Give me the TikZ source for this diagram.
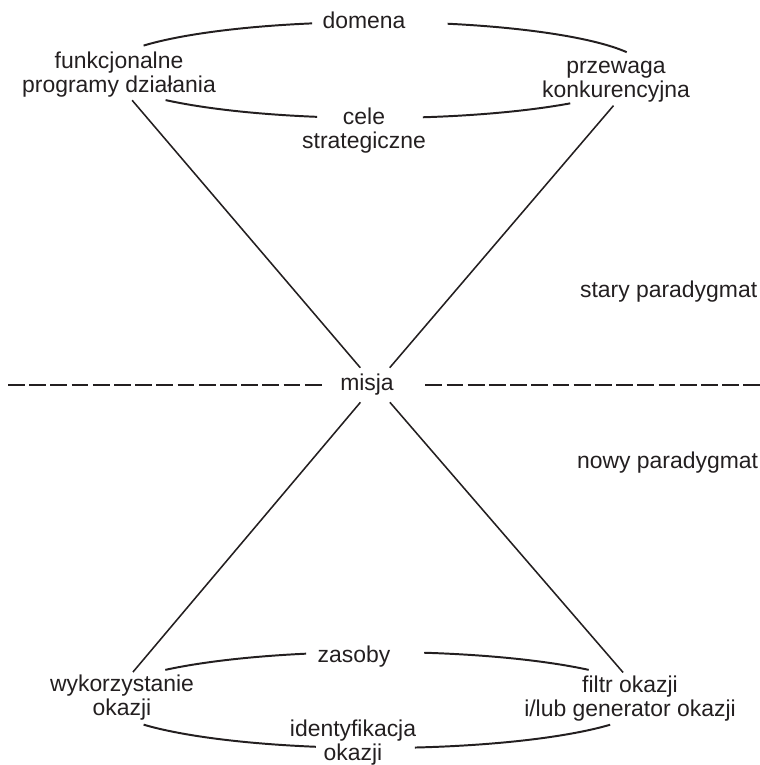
\documentclass[tikz,border=0pt]{standalone}
\usepackage{fontspec}
\setmainfont{Liberation Sans}
\definecolor{ink}{RGB}{35,31,32}
\tikzset{
    rim/.style={line width=1.4pt, draw=ink},
    spoke/.style={line width=1.1pt, draw=ink},
    tekst/.style={font=\fontsize{16.3pt}{17pt}\selectfont, text=ink, align=center, inner sep=2pt},
}
\begin{document}
\begin{tikzpicture}[x=0.025cm, y=-0.025cm]
            \useasboundingbox (0,0) rectangle (760,765);
            \begin{scope}
                \foreach \a/\b in {210.6/256.3, 285.4/338.2, 44/80, 102.6/141.2}
                    \draw[rim] (376,70) ++(\a:270 and 48) arc[start angle=\a, end angle=\b, x radius=270, y radius=48];
                \node[tekst, anchor=base] (domena) at (364,28) {domena};
                \node[tekst] (funkcje) at (119,74.5) {funkcjonalne\\programy działania};
                \node[tekst] (przewaga) at (616,82) {przewaga\\konkurencyjna};
                \node[tekst] (cele) at (364,130.7) {cele\\strategiczne};
                \node[tekst, anchor=base west] (stary) at (577,297) {stary paradygmat};
            \end{scope}
            \node[tekst, minimum width=2.5cm, minimum height=0.85cm, inner sep=0pt] (misja) at (375,385) {misja\hspace{0.4cm}};
            \coordinate (lewy) at (8,385);
            \coordinate (prawy) at (760,385);
            \draw[rim, dash pattern=on 0.42cm off 0.11cm] (lewy) -- (misja);
            \draw[rim, dash pattern=on 0.42cm off 0.11cm] (misja) -- (prawy);
            \begin{scope}
                \foreach \a/\b in {218.9/254.9, 280/321.1, 31/82, 103/149.1}
                    \draw[rim] (377,700) ++(\a:272 and 48) arc[start angle=\a, end angle=\b, x radius=272, y radius=48];
                \node[tekst, anchor=base west] (nowy) at (574,468) {nowy paradygmat};
                \node[tekst, anchor=base] (zasoby) at (354,662) {zasoby};
                \node[tekst] (wykorzystanie) at (122,697.8) {wykorzystanie\\okazji};
                \node[tekst] (filtr) at (630,698.2) {filtr okazji\\i/lub generator okazji};
                \node[tekst] (identyfikacja) at (353,743) {identyfikacja\\okazji};
            \end{scope}
            \draw[spoke] (funkcje.-63) -- (misja);
            \draw[spoke] (przewaga.-96) -- (misja);
            \draw[spoke] (wykorzystanie.67) -- (misja);
            \draw[spoke] (filtr.105) -- (misja);
        \end{tikzpicture}
\end{document}
